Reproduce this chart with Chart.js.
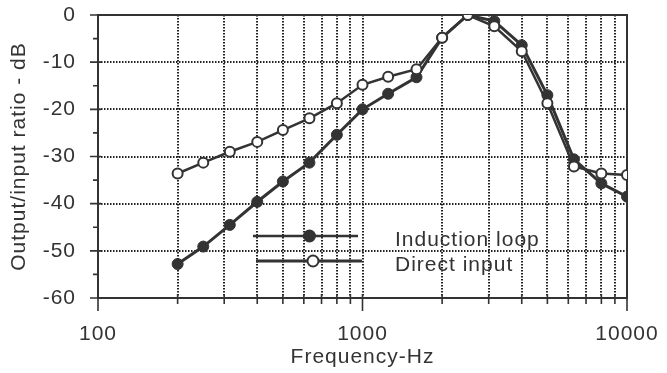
<!DOCTYPE html>
<html>
<head>
<meta charset="utf-8">
<script src="https://cdn.jsdelivr.net/npm/chart.js@4.4.1/dist/chart.umd.min.js"></script>
<style>
  html, body { margin: 0; padding: 0; background: #fff; }
  #wrap { width: 667px; height: 373px; }
</style>
</head>
<body>
<div id="wrap"><canvas id="chart" width="667" height="373"></canvas></div>
<script>
// ── Data ───────────────────────────────────────────────────────────
const freqs         = [200, 250, 315, 400, 500, 630, 800, 1000, 1250, 1600, 2000, 2500, 3150, 4000, 5000, 6300, 8000, 10000];
const inductionLoop = [-52.8, -49.1, -44.5, -39.6, -35.3, -31.3, -25.4, -20.0, -16.7, -13.2, -4.8, 0, -1.3, -6.4, -17.0, -30.6, -35.7, -38.5];
const directInput   = [-33.6, -31.3, -29.0, -26.9, -24.4, -21.9, -18.7, -14.8, -13.1, -11.5, -4.8, 0, -2.4, -7.7, -18.7, -32.1, -33.6, -33.9];

const xTicks      = [100, 200, 300, 400, 500, 600, 700, 800, 900, 1000, 2000, 3000, 4000, 5000, 6000, 7000, 8000, 9000, 10000];
const xLabels     = [100, 1000, 10000];
const yTicks      = [0, -10, -20, -30, -40, -50, -60];
const yMinorTicks = [-5, -15, -25, -35, -45, -55];
const seriesNames = ['Induction loop', 'Direct input'];

const INK  = '#333333';
const GRID = '#222222';
const FONT = '"Liberation Sans", Arial, Helvetica, sans-serif';

// ── Plugins ────────────────────────────────────────────────────────
// letter spacing for the old-Mac Helvetica look (canvas resets it on resize)
const spacing = {
  id: 'spacing',
  beforeUpdate: (chart) => { chart.ctx.letterSpacing = '1px'; },
  beforeDraw:   (chart) => { chart.ctx.letterSpacing = '1px'; },
};

// frame + tick marks crossing the axes
const frame = {
  id: 'frame',
  beforeDatasetsDraw(chart) {
    const { ctx, chartArea: a, scales: { x, y } } = chart;
    ctx.save();
    ctx.strokeStyle = INK;
    ctx.lineWidth = 2;
    ctx.strokeRect(a.left, a.top, a.right - a.left, a.bottom - a.top);
    ctx.lineWidth = 1.6;
    ctx.beginPath();
    xTicks.forEach(v => {
      const px = x.getPixelForValue(v);
      const long = xLabels.includes(v);
      ctx.moveTo(px, a.bottom - 4);
      ctx.lineTo(px, a.bottom + (long ? 13 : 6));
    });
    yTicks.forEach(v => {
      const py = y.getPixelForValue(v);
      ctx.moveTo(a.left - 8, py);
      ctx.lineTo(a.left + 3, py);
    });
    yMinorTicks.forEach(v => {
      const py = y.getPixelForValue(v);
      ctx.moveTo(a.left - 5, py);
      ctx.lineTo(a.left, py);
    });
    ctx.stroke();
    ctx.restore();
  }
};

// legend drawn inside the plot, long line with marker in the middle
const insideLegend = {
  id: 'insideLegend',
  afterDatasetsDraw(chart) {
    const { ctx, chartArea: a } = chart;
    const rows = [
      { x0: a.left + 155, x1: a.left + 260, y: a.top + 221, filled: true,  lw: 2.5 },
      { x0: a.left + 158, x1: a.left + 264, y: a.top + 246, filled: false, lw: 3 },
    ];
    ctx.save();
    ctx.letterSpacing = '1px';
    rows.forEach((r, i) => {
      ctx.strokeStyle = INK;
      ctx.lineWidth = r.lw;
      ctx.beginPath();
      ctx.moveTo(r.x0, r.y);
      ctx.lineTo(r.x1, r.y);
      ctx.stroke();
      const mx = (r.x0 + r.x1) / 2 + 4;
      ctx.beginPath();
      ctx.arc(mx, r.y, 5.5, 0, Math.PI * 2);
      ctx.fillStyle = r.filled ? INK : '#fff';
      ctx.fill();
      ctx.lineWidth = 2;
      ctx.stroke();
      ctx.fillStyle = INK;
      ctx.font = `21px ${FONT}`;
      ctx.textBaseline = 'alphabetic';
      ctx.fillText(seriesNames[i], a.left + 297, r.y + 10 + i * -0.5);
    });
    ctx.restore();
  }
};

const noPad = (s) => { s.paddingTop = 0; s.paddingBottom = 0; s.paddingLeft = 0; s.paddingRight = 0; };

// ── Chart ──────────────────────────────────────────────────────────
const points = (vals) => freqs.map((f, i) => ({ x: f, y: vals[i] }));

new Chart(document.getElementById('chart'), {
  type: 'line',
  data: {
    datasets: [
      {
        label: seriesNames[0],
        data: points(inductionLoop),
        borderColor: INK,
        borderWidth: 3,
        pointRadius: 5.5,
        pointBackgroundColor: INK,
        pointBorderColor: INK,
        pointBorderWidth: 1,
        tension: 0,
        order: 2,
      },
      {
        label: seriesNames[1],
        data: points(directInput),
        borderColor: INK,
        borderWidth: 2.5,
        pointRadius: 5,
        pointBackgroundColor: '#fff',
        pointBorderColor: INK,
        pointBorderWidth: 2,
        tension: 0,
        order: 1,
      }
    ]
  },
  options: {
    responsive: false,
    animation: false,
    events: [],
    layout: { padding: { top: 15, right: 40, left: 0, bottom: 0 } },
    plugins: {
      legend: { display: false },
      tooltip: { enabled: false },
    },
    scales: {
      x: {
        type: 'logarithmic',
        min: 100,
        max: 10000,
        afterBuildTicks: (s) => { s.ticks = xTicks.map(v => ({ value: v })); },
        afterFit: (s) => { s.height = 75; noPad(s); },
        border: { display: false, dash: [1.5, 1.5] },
        grid: {
          drawTicks: false,
          lineWidth: 2,
          color: (c) => (c.tick && (c.tick.value === 100 || c.tick.value === 10000)) ? 'rgba(0,0,0,0)' : GRID,
        },
        ticks: {
          autoSkip: false,
          maxRotation: 0,
          padding: 24,
          color: INK,
          font: { family: FONT, size: 21 },
          callback: (v) => xLabels.includes(v) ? String(v) : '',
        },
        title: {
          display: true,
          text: 'Frequency-Hz',
          color: INK,
          font: { family: FONT, size: 21 },
          padding: { top: 0, bottom: 3 },
        },
      },
      y: {
        min: -60,
        max: 0,
        afterBuildTicks: (s) => { s.ticks = yTicks.map(v => ({ value: v })); },
        afterFit: (s) => { s.width = 98; noPad(s); },
        border: { display: false, dash: [1.5, 1.5] },
        grid: {
          drawTicks: false,
          lineWidth: 2,
          color: (c) => (c.tick && (c.tick.value === 0 || c.tick.value === -60)) ? 'rgba(0,0,0,0)' : GRID,
        },
        ticks: {
          padding: 22,
          color: INK,
          font: { family: FONT, size: 21 },
        },
        title: {
          display: true,
          text: 'Output/input ratio - dB',
          color: INK,
          font: { family: FONT, size: 21 },
          padding: { top: 7, bottom: 0 },
        },
      }
    }
  },
  plugins: [spacing, frame, insideLegend]
});
</script>
</body>
</html>
